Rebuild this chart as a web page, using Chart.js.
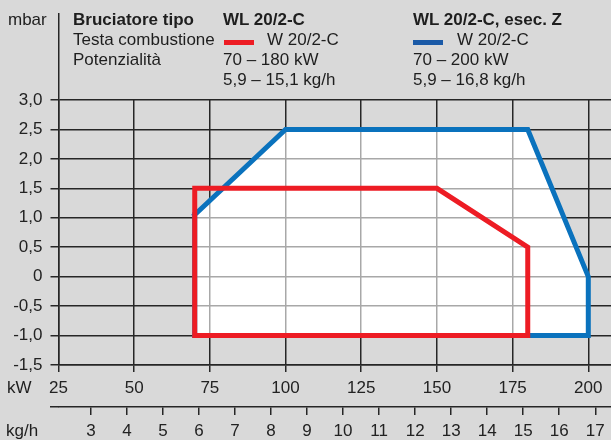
<!DOCTYPE html>
<html>
<head>
<meta charset="utf-8">
<script src="https://cdn.jsdelivr.net/npm/chart.js@4.4.1/dist/chart.umd.min.js"></script>
<style>
  html, body { margin: 0; padding: 0; background: #d9d9d9; }
  #wrap { position: relative; width: 611px; height: 440px; overflow: hidden; background: #d9d9d9;
          font-family: "Liberation Sans", Arial, sans-serif; font-size: 17px; color: #1e1e1e; }
  #wrap canvas { position: absolute; left: 0; top: 0; }
  .t { position: absolute; line-height: 20px; white-space: nowrap; }
  .b { font-weight: bold; }
  .sw { position: absolute; width: 30px; height: 5px; }
</style>
</head>
<body>
<div id="wrap">
  <canvas id="chart" width="611" height="440"></canvas>

  <div class="t" style="left:8px;top:10px">mbar</div>

  <div class="t b" style="left:73px;top:10px">Bruciatore tipo</div>
  <div class="t" style="left:73px;top:30px">Testa combustione</div>
  <div class="t" style="left:73px;top:50px">Potenzialità</div>

  <div class="t b" style="left:223px;top:10px">WL 20/2-C</div>
  <div class="sw" style="left:224px;top:40px;background:#ed1c24"></div>
  <div class="t" style="left:267px;top:30px">W 20/2-C</div>
  <div class="t" style="left:223px;top:50px">70 – 180 kW</div>
  <div class="t" style="left:223px;top:70px">5,9 – 15,1 kg/h</div>

  <div class="t b" style="left:413px;top:10px">WL 20/2-C, esec. Z</div>
  <div class="sw" style="left:413px;top:40px;background:#1b5aa7"></div>
  <div class="t" style="left:457px;top:30px">W 20/2-C</div>
  <div class="t" style="left:413px;top:50px">70 – 200 kW</div>
  <div class="t" style="left:413px;top:70px">5,9 – 16,8 kg/h</div>

  <div class="t" style="left:7px;top:378px">kW</div>
  <div class="t" style="left:6px;top:421px">kg/h</div>
</div>

<script>
// ── data ──────────────────────────────────────────────────────────────────────
var KW_TICKS   = [25, 50, 75, 100, 125, 150, 175, 200];
var KGH_TICKS  = [3, 4, 5, 6, 7, 8, 9, 10, 11, 12, 13, 14, 15, 16, 17];
var MBAR_TICKS = [-1.5, -1.0, -0.5, 0, 0.5, 1.0, 1.5, 2.0, 2.5, 3.0];
var KW_PER_KGH = 11.9;          // oil: kW per kg/h
var X_MIN = 25, X_MAX = 207.5;
var Y_MIN = -1.5, Y_MAX = 3.0;

// W 20/2-C head, WL 20/2-C (red)
var RED_KW   = [70, 70, 150, 180, 180, 70];
var RED_MBAR = [-1.0, 1.5, 1.5, 0.5, -1.0, -1.0];
// W 20/2-C head, WL 20/2-C esec. Z (blue)
var BLUE_KW   = [70, 100, 180, 200, 200, 70, 70];
var BLUE_MBAR = [1.05, 2.5, 2.5, 0, -1.0, -1.0, 1.05];

// ── style ─────────────────────────────────────────────────────────────────────
var RED = "#ed1c24", BLUE = "#0a72bd";
var GRID = "#262626", GRID_IN = "#a8a8a8", GRID_W = 1.5;
var TXT = "#222222";

function pts(xs, ys) { return xs.map(function (x, i) { return { x: x, y: ys[i] }; }); }
function alignPx(p, w) { var h = w / 2; return Math.round(p - h) + h; }
function fmtMbar(v) { return v === 0 ? "0" : v.toFixed(1).replace(".", ","); }

// lighter grid lines inside the blue working field (drawn over its white fill)
var innerGrid = {
  id: "innerGrid",
  beforeDatasetDraw: function (chart, args) {
    if (args.index !== 1) return;
    var ctx = chart.ctx, a = chart.chartArea, xs = chart.scales.x, ys = chart.scales.y;
    ctx.save();
    ctx.beginPath();
    BLUE_KW.forEach(function (v, i) {
      var px = xs.getPixelForValue(v), py = ys.getPixelForValue(BLUE_MBAR[i]);
      if (i) ctx.lineTo(px, py); else ctx.moveTo(px, py);
    });
    ctx.closePath();
    ctx.clip();
    ctx.strokeStyle = GRID_IN; ctx.lineWidth = GRID_W;
    ctx.beginPath();
    ys.ticks.forEach(function (t) {
      var py = alignPx(ys.getPixelForValue(t.value), GRID_W);
      ctx.moveTo(a.left, py); ctx.lineTo(a.right, py);
    });
    xs.ticks.forEach(function (t) {
      var px = alignPx(xs.getPixelForValue(t.value), GRID_W);
      ctx.moveTo(px, a.top); ctx.lineTo(px, a.bottom);
    });
    ctx.stroke();
    ctx.restore();
  }
};

// y axis line runs up into the header; kg/h axis line starts a bit left
var axisExtras = {
  id: "axisExtras",
  afterDraw: function (chart) {
    var ctx = chart.ctx, a = chart.chartArea, x2 = chart.scales.x2;
    var px = alignPx(chart.scales.x.getPixelForValue(X_MIN), GRID_W);
    var py = alignPx(x2.top, GRID_W);
    ctx.save();
    ctx.strokeStyle = GRID; ctx.lineWidth = GRID_W;
    ctx.beginPath();
    ctx.moveTo(px, a.top); ctx.lineTo(px, 13);
    ctx.moveTo(50, py); ctx.lineTo(a.left, py);
    ctx.stroke();
    ctx.restore();
  }
};

Chart.defaults.font.family = "'Liberation Sans', Arial, sans-serif";
Chart.defaults.font.size = 17;
Chart.defaults.color = TXT;

new Chart(document.getElementById("chart").getContext("2d"), {
  type: "scatter",
  data: {
    datasets: [
      { label: "WL 20/2-C", data: pts(RED_KW, RED_MBAR), showLine: true, borderColor: RED, borderWidth: 5,
        borderJoinStyle: "miter", borderCapStyle: "square", pointRadius: 0, fill: false, tension: 0 },
      { label: "WL 20/2-C, esec. Z", data: pts(BLUE_KW, BLUE_MBAR), showLine: true, borderColor: BLUE, borderWidth: 5,
        borderJoinStyle: "miter", borderCapStyle: "square", pointRadius: 0, fill: false, tension: 0 },
      { label: "field", data: pts(BLUE_KW, BLUE_MBAR), showLine: true, borderWidth: 0, borderColor: "rgba(0,0,0,0)",
        backgroundColor: "#ffffff", fill: "shape", pointRadius: 0, tension: 0 }
    ]
  },
  options: {
    responsive: false, animation: false, devicePixelRatio: 1, events: [],
    layout: { padding: { top: 100, left: 0, right: 0, bottom: 0 }, autoPadding: false },
    plugins: { legend: { display: false }, tooltip: { enabled: false } },
    scales: {
      x: {
        type: "linear", position: "bottom", weight: 0, min: X_MIN, max: X_MAX,
        afterBuildTicks: function (s) { s.ticks = KW_TICKS.map(function (v) { return { value: v }; }); },
        afterFit: function (s) { s.height = 42; },
        grid: { color: GRID, lineWidth: GRID_W, drawTicks: true, tickLength: 7 },
        border: { display: true, color: GRID, width: GRID_W },
        ticks: { color: TXT, padding: 6, maxRotation: 0, autoSkip: false,
                 callback: function (v) { return String(v); } }
      },
      x2: {
        type: "linear", position: "bottom", weight: 1,
        min: X_MIN / KW_PER_KGH, max: X_MAX / KW_PER_KGH,
        afterBuildTicks: function (s) { s.ticks = KGH_TICKS.map(function (v) { return { value: v }; }); },
        afterFit: function (s) { s.height = 33; },
        grid: { color: GRID, lineWidth: GRID_W, drawOnChartArea: false, drawTicks: true, tickLength: 8 },
        border: { display: true, color: GRID, width: GRID_W },
        ticks: { color: TXT, padding: 6, maxRotation: 0, autoSkip: false,
                 callback: function (v) { return String(v); } }
      },
      y: {
        type: "linear", position: "left", min: Y_MIN, max: Y_MAX,
        afterBuildTicks: function (s) { s.ticks = MBAR_TICKS.map(function (v) { return { value: v }; }); },
        afterFit: function (s) { s.width = 58.5; },
        grid: { color: GRID, lineWidth: GRID_W, drawTicks: true, tickLength: 8 },
        border: { display: true, color: GRID, width: GRID_W },
        ticks: { color: TXT, padding: 8, callback: function (v) { return fmtMbar(v); } }
      }
    }
  },
  plugins: [innerGrid, axisExtras]
});
</script>
</body>
</html>
